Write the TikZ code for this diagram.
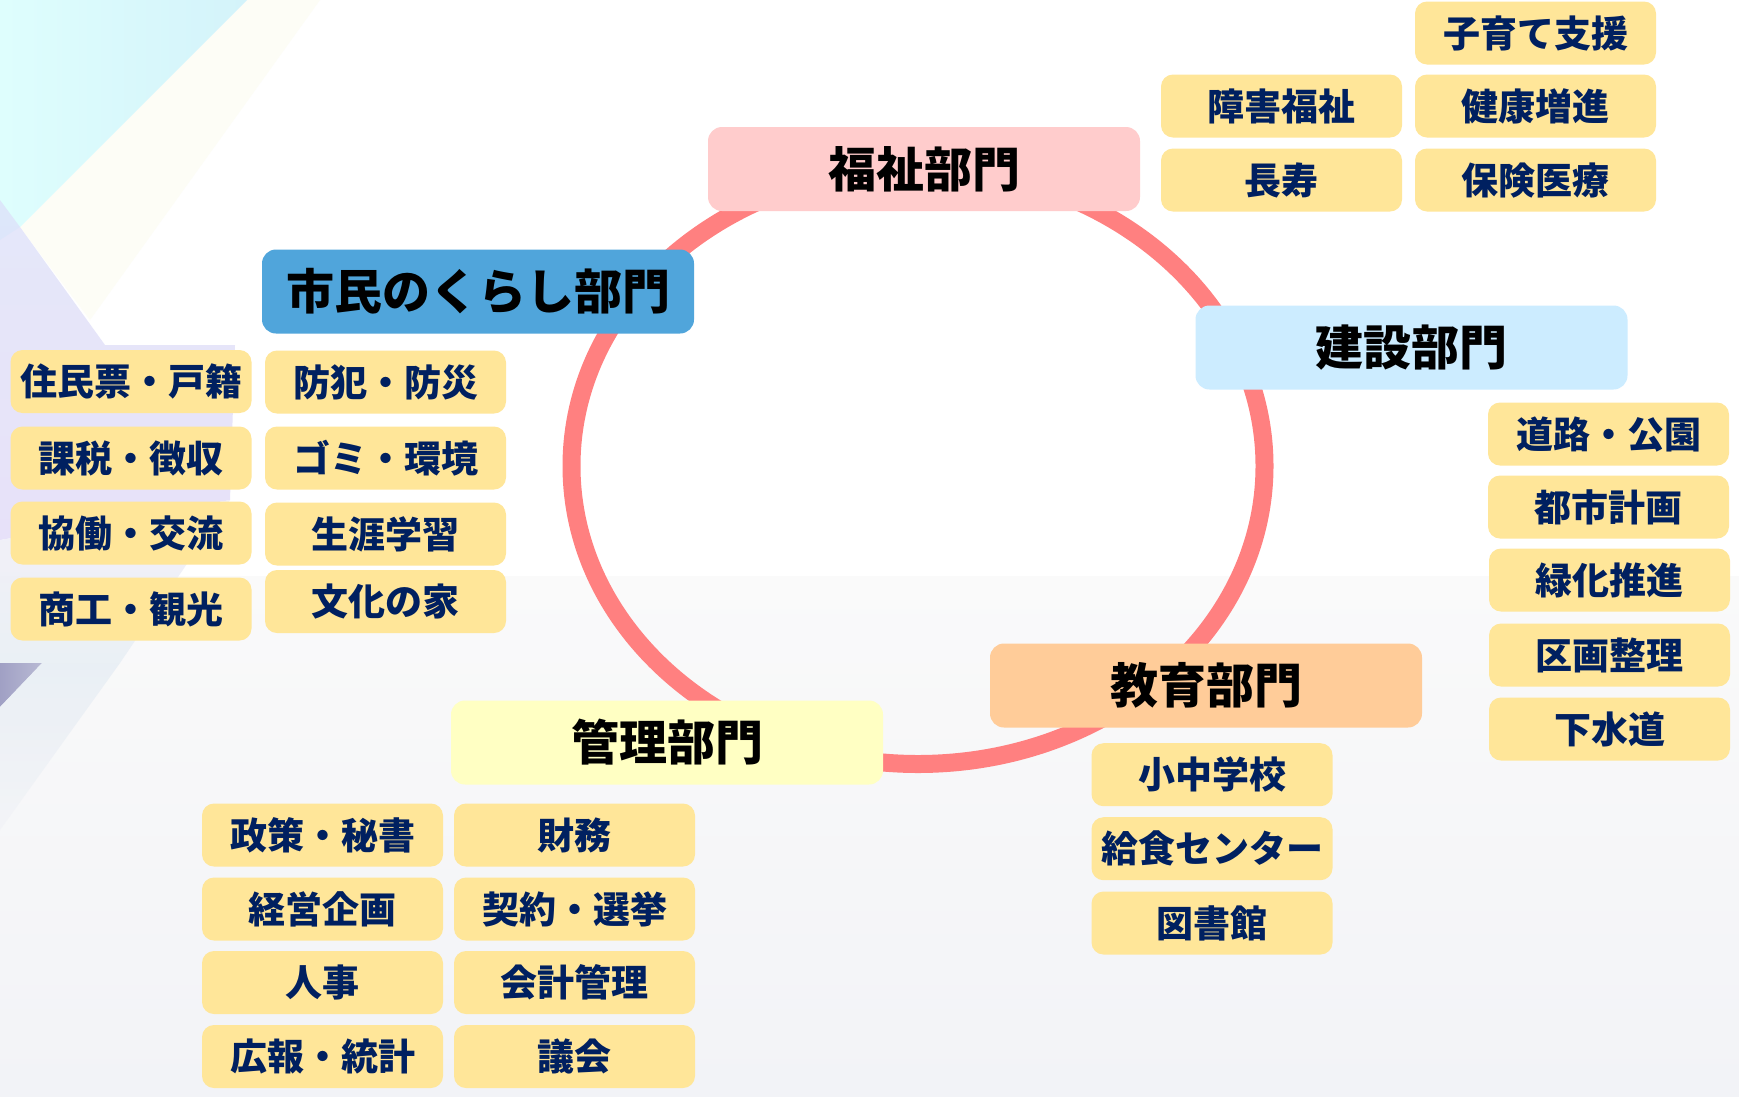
\documentclass[tikz,border=0pt]{standalone}
\usepackage{fontspec}
\newfontfamily\jp{Noto Sans CJK JP}
\definecolor{ringc}{RGB}{255,128,128}
\definecolor{itemfill}{HTML}{FFE699}
\definecolor{navy}{HTML}{002060}
\definecolor{fukushi}{HTML}{FFCCCC}
\definecolor{shimin}{HTML}{50A5DB}
\definecolor{kensetsu}{HTML}{CCECFF}
\definecolor{kyoiku}{HTML}{FFCC99}
\definecolor{kanri}{HTML}{FFFFC3}
\definecolor{bgtop}{RGB}{250,250,250}
\definecolor{bgbot}{RGB}{242,243,247}
\definecolor{cyanA}{RGB}{222,254,253}
\definecolor{cyanB}{RGB}{212,243,250}
\definecolor{lavA}{RGB}{224,216,248}
\definecolor{lavB}{RGB}{238,236,246}
\definecolor{triA}{RGB}{160,160,196}
\definecolor{triB}{RGB}{185,186,212}
\definecolor{bluL}{RGB}{230,237,244}
\definecolor{creamL}{RGB}{253,253,246}
\begin{document}
\begin{tikzpicture}[x=1pt,y=-1pt,
 dept/.style={rounded corners=14pt, inner sep=0pt, minimum width=432pt, minimum height=84pt,
   font=\jp\bfseries\fontsize{48}{56}\selectfont, text=black, text height=41pt, text depth=5pt},
 item/.style={rounded corners=12pt, fill=itemfill, inner sep=0pt, minimum width=241pt, minimum height=63pt,
   font=\jp\bfseries\fontsize{37}{44}\selectfont, text=navy, text height=31.8pt, text depth=3.7pt}]
% background
\useasboundingbox (0,0) rectangle (1739,1096);
\fill[white] (0,0) rectangle (1739,1096);
\shade[top color=bgtop, bottom color=bgbot] (0,576) rectangle (1739,1096);
\fill[creamL] (247,0) -- (320,0) -- (90,320) -- (20,227) -- cycle;
\shade[left color=cyanA, right color=cyanB] (0,0) -- (247,0) -- (20,227) -- (0,240) -- cycle;
\shade[top color=lavA!70!cyanB, bottom color=lavA, opacity=0.75] (0,200) -- (20,227) -- (105,345) -- (235,345) -- (230,500) -- (0,540) -- cycle;
\shade[top color=lavB, bottom color=bluL, opacity=0.75] (0,540) -- (230,500) -- (120,663) -- (0,663) -- cycle;
\shade[left color=triA, right color=triB] (0,663) -- (42,663) -- (0,707) -- cycle;
\shade[top color=bluL, bottom color=bgbot, opacity=0.8] (0,707) -- (42,663) -- (120,663) -- (0,830) -- cycle;
% ring
\draw[ringc, line width=18pt] (918,466) ellipse [x radius=346.5, y radius=298];
% departments
\node[dept, fill=fukushi] (fukushi) at (924,169) {福祉部門};
\node[dept, fill=shimin] (shimin) at (478,291.5) {市民のくらし部門};
\node[dept, fill=kensetsu] (kensetsu) at (1411.5,347.5) {建設部門};
\node[dept, fill=kyoiku] (kyoiku) at (1206,685.5) {教育部門};
\node[dept, fill=kanri] (kanri) at (667,742.5) {管理部門};
% 市民のくらし
\node[item] (s1) at (131,381.5) {住民票・戸籍};
\node[item] (s2) at (131,458) {課税・徴収};
\node[item] (s3) at (131,533) {協働・交流};
\node[item] (s4) at (131,609) {商工・観光};
\node[item] (s5) at (385.5,382) {防犯・防災};
\node[item] (s6) at (385.5,458) {ゴミ・環境};
\node[item] (s7) at (385.5,534) {生涯学習};
\node[item] (s8) at (385.5,601.5) {文化の家};
% 管理
\node[item] (m1) at (322.5,835) {政策・秘書};
\node[item] (m2) at (322.5,909) {経営企画};
\node[item] (m3) at (322.5,982.5) {人事};
\node[item] (m4) at (322.5,1056.5) {広報・統計};
\node[item] (m5) at (574.5,835) {財務};
\node[item] (m6) at (574.5,909) {契約・選挙};
\node[item] (m7) at (574.5,982.5) {会計管理};
\node[item] (m8) at (574.5,1056.5) {議会};
% 福祉
\node[item] (f1) at (1535.5,33) {子育て支援};
\node[item] (f2) at (1281.5,106) {障害福祉};
\node[item] (f3) at (1535.5,106) {健康増進};
\node[item] (f4) at (1281.5,180) {長寿};
\node[item] (f5) at (1535.5,180) {保険医療};
% 建設
\node[item] (k1) at (1608.5,434) {道路・公園};
\node[item] (k2) at (1608.5,507) {都市計画};
\node[item] (k3) at (1609.5,580) {緑化推進};
\node[item] (k4) at (1609.5,655) {区画整理};
\node[item] (k5) at (1609.5,729) {下水道};
% 教育
\node[item] (e1) at (1212,774.7) {小中学校};
\node[item] (e2) at (1212,848.7) {給食センター};
\node[item] (e3) at (1212,923) {図書館};
\end{tikzpicture}
\end{document}
